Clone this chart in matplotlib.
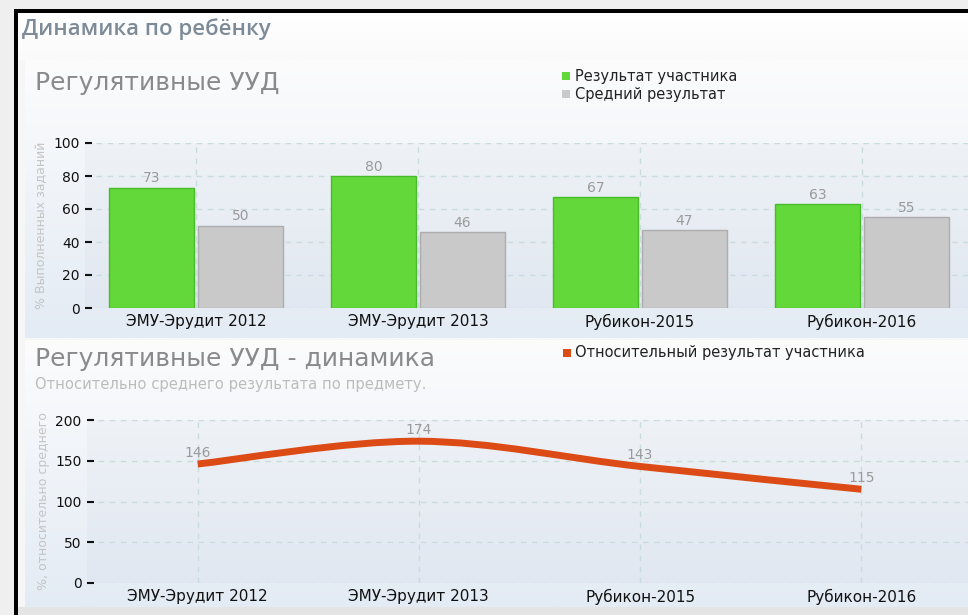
import matplotlib
matplotlib.use("Agg")
import matplotlib.pyplot as plt
import numpy as np
from matplotlib.patches import Rectangle
from matplotlib.path import Path
from matplotlib.patches import PathPatch

# ---------------- data ----------------
categories = ["ЭМУ-Эрудит 2012", "ЭМУ-Эрудит 2013", "Рубикон-2015", "Рубикон-2016"]
participant = [73, 80, 67, 63]
average = [50, 46, 47, 55]
relative = [146, 174, 143, 115]
bar_yticks = [0, 20, 40, 60, 80, 100]
line_yticks = [0, 50, 100, 150, 200]

GREEN = "#62d83a"
GREEN_EDGE = "#47bb2a"
GREY = "#c9c9c9"
GREY_EDGE = "#adadad"
ORANGE = "#dc4b16"
GRID = "#c9dcdc"

W, H = 968, 615
fig = plt.figure(figsize=(W / 100, H / 100), dpi=100)
fig.patch.set_facecolor("#f0f0f0")

# ---------------- background (pixel coordinates) ----------------
bg = fig.add_axes([0, 0, 1, 1], zorder=-10)
bg.set_xlim(0, W)
bg.set_ylim(H, 0)
bg.axis("off")

def rect(x0, y0, x1, y1, color, z=0):
    bg.add_patch(Rectangle((x0, y0), x1 - x0, y1 - y0, facecolor=color,
                           edgecolor="none", zorder=z))

def gradient(x0, y0, x1, y1, c_top, c_bot, z=1):
    t = np.linspace(0, 1, 256)[:, None]
    ct = np.array(matplotlib.colors.to_rgb(c_top))
    cb = np.array(matplotlib.colors.to_rgb(c_bot))
    img = (ct[None, None, :] * (1 - t[..., None]) + cb[None, None, :] * t[..., None])
    img = np.repeat(img, 2, axis=1)
    bg.imshow(img, extent=(x0, x1, y1, y0), aspect="auto", zorder=z,
              interpolation="bilinear")

rect(0, 0, W, H, "#efefef")
rect(18, 13, W, 607, "#f6f6f6", 1)
gradient(18, 13, W, 60, "#ffffff", "#fafafa", 1.5)
gradient(25, 60, W, 338, "#fcfcfd", "#e3ebf4", 2)
gradient(25, 340, W, 607, "#fcfcfd", "#e3ebf4", 2)
rect(18, 607, W, H, "#e4e4e4", 3)
rect(14, 9, 18, H, "black", 4)
rect(14, 9, W, 13, "black", 4)
bg.set_xlim(0, W)
bg.set_ylim(H, 0)

bg.text(22, 29, "Динамика по ребёнку", fontsize=16, fontweight="semibold",
        family="Open Sans", color="#7d8b98", va="center", ha="left", zorder=5)

bg.text(35, 83, "Регулятивные УУД", fontsize=18, color="#8a8a8a",
        va="center", ha="left", zorder=5)
bg.text(35, 359, "Регулятивные УУД - динамика", fontsize=18, color="#8a8a8a",
        va="center", ha="left", zorder=5)
bg.text(35, 384, "Относительно среднего результата по предмету.", fontsize=10.6,
        color="#bcbcbc", va="center", ha="left", zorder=5)

# legends
rect(562, 72, 570, 80, GREEN, 5)
bg.text(575, 76, "Результат участника", fontsize=10.5, color="#222222",
        va="center", ha="left", zorder=5)
rect(562, 90, 570, 98, GREY, 5)
bg.text(575, 94, "Средний результат", fontsize=10.5, color="#222222",
        va="center", ha="left", zorder=5)
rect(563, 349, 571, 357, ORANGE, 5)
bg.text(575, 353, "Относительный результат участника", fontsize=10.5,
        color="#222222", va="center", ha="left", zorder=5)

# ---------------- helper for axes ----------------
def px_axes(left, top, right, bottom):
    return fig.add_axes([left / W, 1 - bottom / H, (right - left) / W,
                         (bottom - top) / H])

def style(ax, yticks, ylabel):
    ax.set_facecolor((0.55, 0.6, 0.7, 0.05))
    for s in ax.spines.values():
        s.set_visible(False)
    ax.set_xlim(-0.5, len(categories) - 0.5)
    ax.set_xticks(range(len(categories)))
    ax.set_xticklabels(categories, fontsize=11, color="#111111")
    ax.set_yticks(yticks)
    ax.set_yticklabels([str(v) for v in yticks], fontsize=10, color="#111111")
    ax.tick_params(axis="x", length=0, pad=4)
    ax.tick_params(axis="y", direction="in", length=5, width=1.5,
                   color="#111111", pad=3.8)
    ax.grid(True, color=GRID, linestyle=(0, (4, 4)), linewidth=1)
    ax.set_axisbelow(True)
    ax.set_ylabel(ylabel, fontsize=9, color="#c4c4c4", labelpad=4)

# ---------------- bar chart ----------------
ax1 = px_axes(85, 143, 973, 308)
style(ax1, bar_yticks, "% Выполненных заданий")
ax1.set_ylim(0, 100)
x = np.arange(len(categories))
bw = 0.385
b1 = ax1.bar(x - 0.2, participant, width=bw, color=GREEN, edgecolor=GREEN_EDGE,
             linewidth=1, zorder=3)
b2 = ax1.bar(x + 0.2, average, width=bw, color=GREY, edgecolor=GREY_EDGE,
             linewidth=1, zorder=3)
for bars, vals in ((b1, participant), (b2, average)):
    for b, v in zip(bars, vals):
        ax1.annotate(str(v), (b.get_x() + b.get_width() / 2, v),
                     xytext=(0, 1.5), textcoords="offset points",
                     ha="center", va="bottom", fontsize=10, color="#9a9a9a")

# ---------------- line chart ----------------
ax2 = px_axes(87, 420, 972, 583)
style(ax2, line_yticks, "%, относительно среднего")
ax2.set_ylim(0, 200)

# smooth curve through the data points (Catmull-Rom as cubic Beziers)
pts = np.column_stack([x, relative]).astype(float)
ext = np.vstack([pts[0], pts, pts[-1]])
verts = [tuple(pts[0])]
codes = [Path.MOVETO]
for i in range(len(pts) - 1):
    p0, p1, p2, p3 = ext[i], ext[i + 1], ext[i + 2], ext[i + 3]
    c1 = p1 + (p2 - p0) / 6
    c2 = p2 - (p3 - p1) / 6
    verts += [tuple(c1), tuple(c2), tuple(p2)]
    codes += [Path.CURVE4] * 3
ax2.add_patch(PathPatch(Path(verts, codes), facecolor="none", edgecolor=ORANGE,
                        linewidth=5, capstyle="butt", zorder=3))
for xi, v in zip(x, relative):
    ax2.annotate(str(v), (xi, v), xytext=(0, 3), textcoords="offset points",
                 ha="center", va="bottom", fontsize=10, color="#9a9a9a",
                 zorder=4)

fig.savefig("out.png", dpi=100, facecolor=fig.get_facecolor())
